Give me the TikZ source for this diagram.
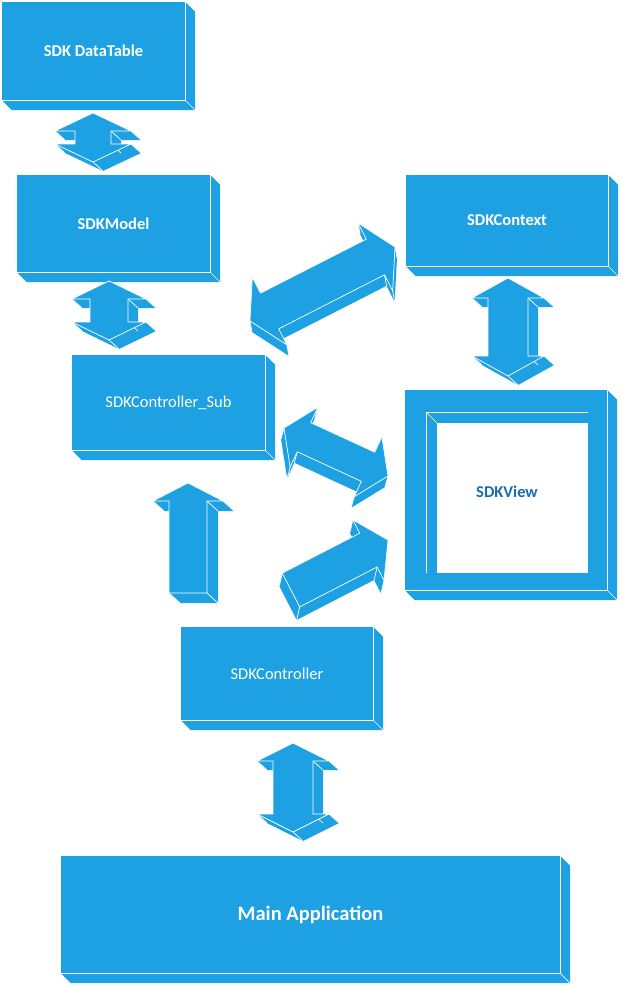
\documentclass[tikz,border=0pt]{standalone}
\usepackage{fontspec}
\setmainfont{Carlito}
\usetikzlibrary{calc}

\definecolor{sdkblue}{RGB}{29,161,226}
\definecolor{sdkdark}{RGB}{27,108,178}

\tikzset{
  block/.style={fill=sdkblue, inner sep=0pt, text=white, font=\fontsize{16.5}{19}\selectfont},
  edge/.style={draw=white, line width=0.7pt},
}

% Caja con profundidad: cara inferior y cara lateral
\newcommand{\depthbox}[1]{%
  \fill[sdkblue] (#1.north east) -- ++(10,10) -- ($(#1.south east)+(10,10)$)
    -- ($(#1.south west)+(10,10)$) -- (#1.south west) -- (#1.south east) -- cycle;
  \draw[edge] (#1.south west) -- (#1.south east) -- (#1.north east);
  \draw[edge] (#1.south east) -- ++(10,10);
}

% Solido de una flecha: caras laterales, aristas y cara frontal
\newcommand{\drawsolid}[3]{%
  \foreach \i [count=\j from 2] in {1,...,#1}
    \fill[sdkblue] (q\i) -- (q\j) -- ($(q\j)+(#2,#3)$) -- ($(q\i)+(#2,#3)$) -- cycle;
  \foreach \i in {1,...,#1}
    \draw[edge] (q\i) -- ($(q\i)+(#2,#3)$);
  \fill[sdkblue] (q1) \foreach \i in {2,...,#1}{ -- (q\i)} -- cycle;
  \draw[edge] (q1) \foreach \i in {2,...,#1}{ -- (q\i)} -- cycle;
}

% Flecha doble: extremos, medio ancho, media punta, largo de punta, profundidad
\newcommand{\dblarrow}[7]{%
  \path ($(#1)!#5pt!(#2)$) coordinate (ha) ($(#2)!#5pt!(#1)$) coordinate (hb);
  \path (#1) coordinate (q1)
    ($(ha)!#4pt!90:(#2)$) coordinate (q2)
    ($(ha)!#3pt!90:(#2)$) coordinate (q3)
    ($(hb)!#3pt!-90:(#1)$) coordinate (q4)
    ($(hb)!#4pt!-90:(#1)$) coordinate (q5)
    (#2) coordinate (q6)
    ($(hb)!#4pt!90:(#1)$) coordinate (q7)
    ($(hb)!#3pt!90:(#1)$) coordinate (q8)
    ($(ha)!#3pt!-90:(#2)$) coordinate (q9)
    ($(ha)!#4pt!-90:(#2)$) coordinate (q10)
    (#1) coordinate (q11);
  \drawsolid{10}{#6}{#7}
}

% Flecha simple: la cola es recta
\newcommand{\sglarrow}[7]{%
  \path ($(#2)!#5pt!(#1)$) coordinate (hb);
  \path ($(#1)!#3pt!90:(#2)$) coordinate (q1)
    ($(hb)!#3pt!-90:(#1)$) coordinate (q2)
    ($(hb)!#4pt!-90:(#1)$) coordinate (q3)
    (#2) coordinate (q4)
    ($(hb)!#4pt!90:(#1)$) coordinate (q5)
    ($(hb)!#3pt!90:(#1)$) coordinate (q6)
    ($(#1)!#3pt!-90:(#2)$) coordinate (q7)
    ($(#1)!#3pt!90:(#2)$) coordinate (q8);
  \drawsolid{7}{#6}{#7}
}

\begin{document}
\begin{tikzpicture}[x=1pt, y=-1pt]
\useasboundingbox (0,0) rectangle (622,985);

% Las cajas
\node[block, minimum width=183, minimum height=98, font=\fontsize{16.5}{19}\selectfont\bfseries] (table) at (93.5,51) {SDK DataTable};
\depthbox{table}
\node[block, minimum width=193, minimum height=97, font=\fontsize{16.5}{19}\selectfont\bfseries] (model) at (113.5,223.5) {SDKModel};
\depthbox{model}
\node[block, minimum width=202, minimum height=91, font=\fontsize{16.5}{19}\selectfont\bfseries] (context) at (507,220.5) {SDKContext};
\depthbox{context}
\node[block, minimum width=193, minimum height=95] (sub) at (168.5,402.5) {SDKController\_Sub};
\depthbox{sub}
\node[block, minimum width=192, minimum height=93] (ctrl) at (277,673.5) {SDKController};
\depthbox{ctrl}
\node[block, minimum width=499, minimum height=117, font=\fontsize{20.5}{24}\selectfont\bfseries] (app) at (310.5,914.5) {Main Application};
\depthbox{app}

% La vista es un marco con hueco blanco
\node[block, minimum width=202, minimum height=200] (view) at (506,490) {};
\depthbox{view}
\fill[white] (426,412) rectangle (588,573);
\fill[sdkblue] (426,412) -- (588,412) -- (588,423) -- (437,423) -- (437,573) -- (426,573) -- cycle;
\draw[edge] (588,412) -- (426,412) -- (426,573);
\draw[edge] (588,423) -- (437,423) -- (437,573);
\draw[edge] (426,412) -- (437,423);
\node[text=sdkdark, font=\fontsize{16.5}{19}\selectfont\bfseries] (viewlabel) at (507,492) {SDKView};

% Extremos de las flechas
\coordinate (tm1) at (93,113);   \coordinate (tm2) at (93,162);
\coordinate (ms1) at (109,281);  \coordinate (ms2) at (109,340);
\coordinate (cv1) at (508,278);  \coordinate (cv2) at (508,376);
\coordinate (ca1) at (293,743);  \coordinate (ca2) at (293,832);
\coordinate (sc1) at (250,321);  \coordinate (sc2) at (395,247);
\coordinate (sv1) at (284,428);  \coordinate (sv2) at (388,476);
\coordinate (cs1) at (188,593);  \coordinate (cs2) at (188,483);
\coordinate (cw1) at (291,590);  \coordinate (cw2) at (388,540);

% Las flechas
\dblarrow{tm1}{tm2}{18}{38}{18}{10}{9}
\dblarrow{ms1}{ms2}{19}{37}{18}{10}{9}
\dblarrow{cv1}{cv2}{20}{36}{20}{10}{9}
\dblarrow{ca1}{ca2}{20}{36}{18}{10}{9}
\dblarrow{sc1}{sc2}{20}{38}{22}{2}{11}
\dblarrow{sv1}{sv2}{16}{33}{22}{-3}{11}
\sglarrow{cs1}{cs2}{19}{35}{18}{11}{10}
\sglarrow{cw1}{cw2}{19}{34}{22}{-3}{13}
\end{tikzpicture}
\end{document}
